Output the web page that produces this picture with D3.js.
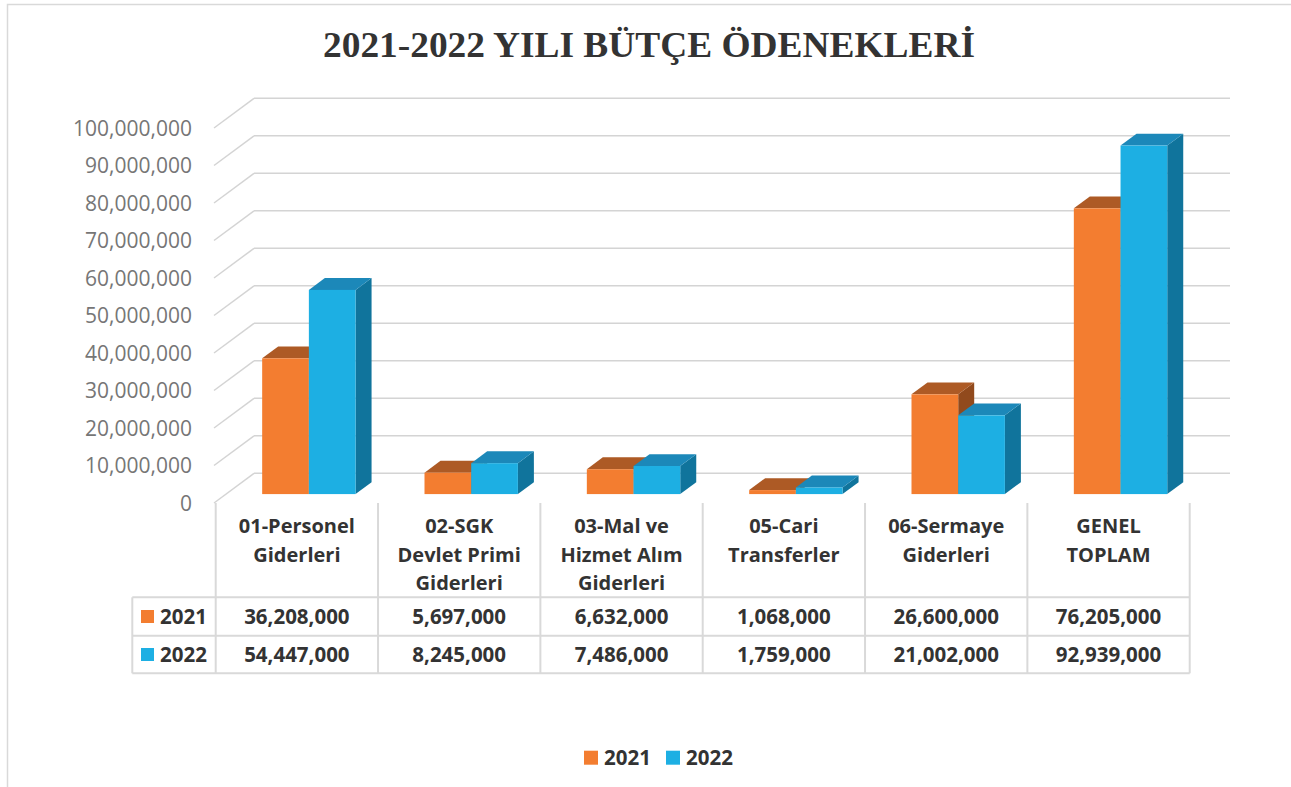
<!DOCTYPE html>
<html>
<head>
<meta charset="utf-8">
<script src="https://cdn.jsdelivr.net/npm/d3@7"></script>
<style>
  body { margin: 0; background: #fff; }
  svg { display: block; }
</style>
</head>
<body>
<div class="chart"></div>
<script>
// chart data
const categories = [
  ["01-Personel", "Giderleri"],
  ["02-SGK", "Devlet Primi", "Giderleri"],
  ["03-Mal ve", "Hizmet Alım", "Giderleri"],
  ["05-Cari", "Transferler"],
  ["06-Sermaye", "Giderleri"],
  ["GENEL", "TOPLAM"]
];
const seriesNames = ["2021", "2022"];
const values2021 = [36208000, 5697000, 6632000, 1068000, 26600000, 76205000];
const values2022 = [54447000, 8245000, 7486000, 1759000, 21002000, 92939000];
const yMax = 100000000;

const colors = {
  "2021": { front: "#F37D30", top: "#AD5A25", side: "#914A1D" },
  "2022": { front: "#1DAFE3", top: "#1C88B9", side: "#10749C" }
};

const width = 1291, height = 787;
const textColor = "#333333";
const gridColor = "#D4D4D4";
const font = "'Open Sans', sans-serif";

const svg = d3.select(".chart").append("svg")
  .attr("width", width)
  .attr("height", height);

// outer chart border
svg.append("rect")
  .attr("x", 7.5).attr("y", 4.5)
  .attr("width", width + 20).attr("height", height + 20)
  .attr("fill", "#fff")
  .attr("stroke", "#D9D9D9")
  .attr("stroke-width", 1.5);

// title
svg.append("text")
  .attr("x", 649).attr("y", 57)
  .attr("text-anchor", "middle")
  .attr("font-family", "'Liberation Serif', 'Times New Roman', serif")
  .attr("font-weight", "bold")
  .attr("font-size", 36)
  .attr("fill", textColor)
  .attr("textLength", 652)
  .attr("lengthAdjust", "spacingAndGlyphs")
  .text("2021-2022 YILI BÜTÇE ÖDENEKLERİ");

// scales
const x = d3.scaleBand()
  .domain(d3.range(categories.length))
  .range([215.7, 1189.7])
  .padding(0);

const y = d3.scaleLinear()
  .domain([0, yMax])
  .range([503, 128]);

const xs = d3.scaleBand()
  .domain(seriesNames)
  .range([-46.7, 46.7]);

// oblique depth
const depthX = 40, depthY = -29.7;
const zFront = 0.3, zBack = 0.7;
const wallLeft = 214, wallRight = 1230;

const g = svg.append("g");

// walls / gridlines
const ticks = y.ticks(10);
const grid = g.append("g").attr("stroke", gridColor).attr("stroke-width", 1.5).attr("fill", "none");
ticks.forEach(t => {
  grid.append("line")
    .attr("x1", wallLeft + depthX).attr("y1", y(t) + depthY)
    .attr("x2", wallRight).attr("y2", y(t) + depthY);
  grid.append("line")
    .attr("x1", wallLeft).attr("y1", y(t))
    .attr("x2", wallLeft + depthX).attr("y2", y(t) + depthY);
});

// y labels
g.append("g").selectAll("text")
  .data(ticks)
  .enter().append("text")
  .attr("x", 192)
  .attr("y", d => y(d))
  .attr("dy", "0.36em")
  .attr("text-anchor", "end")
  .attr("font-family", font)
  .attr("font-size", 21)
  .attr("fill", "#767676")
  .text(d => d3.format(",")(d));

// bars
const barData = [];
categories.forEach((c, i) => {
  barData.push({ i, s: "2021", v: values2021[i] });
  barData.push({ i, s: "2022", v: values2022[i] });
});

const bars = g.append("g");
barData.forEach(d => {
  const ox = zFront * depthX, oy = zFront * depthY;
  const dx = (zBack - zFront) * depthX, dy = (zBack - zFront) * depthY;
  const x0 = x(d.i) + x.bandwidth() / 2 + xs(d.s) + ox;
  const x1 = x0 + xs.bandwidth();
  const yt = y(d.v) + oy;
  const yb = y(0) + oy;
  const c = colors[d.s];
  const b = bars.append("g");
  b.append("path")
    .attr("d", `M${x1},${yt}L${x1 + dx},${yt + dy}L${x1 + dx},${yb + dy}L${x1},${yb}Z`)
    .attr("fill", c.side);
  b.append("path")
    .attr("d", `M${x0},${yt}L${x1},${yt}L${x1 + dx},${yt + dy}L${x0 + dx},${yt + dy}Z`)
    .attr("fill", c.top);
  b.append("rect")
    .attr("x", x0).attr("y", yt)
    .attr("width", x1 - x0).attr("height", yb - yt)
    .attr("fill", c.front);
});

// data table
const tableLeft = 132.3;
const rowTops = [597.3, 635.7, 673.3];
const tbl = g.append("g").attr("stroke", "#D9D9D9").attr("stroke-width", 2).attr("fill", "none");
rowTops.forEach(r => {
  tbl.append("line").attr("x1", tableLeft).attr("x2", x.range()[1]).attr("y1", r).attr("y2", r);
});
tbl.append("line").attr("x1", tableLeft).attr("x2", tableLeft).attr("y1", rowTops[0]).attr("y2", rowTops[2]);
d3.range(categories.length + 1).forEach(i => {
  const xv = i < categories.length ? x(i) : x.range()[1];
  tbl.append("line").attr("x1", xv).attr("x2", xv).attr("y1", 503).attr("y2", rowTops[2]);
});

// category headers
categories.forEach((lines, i) => {
  const t = g.append("text")
    .attr("text-anchor", "middle")
    .attr("font-family", font)
    .attr("font-weight", "bold")
    .attr("font-size", 20)
    .attr("fill", textColor);
  lines.forEach((l, k) => {
    t.append("tspan")
      .attr("x", x(i) + x.bandwidth() / 2)
      .attr("y", 526 + k * 28.5)
      .attr("dy", "0.36em")
      .text(l);
  });
});

// row values
[values2021, values2022].forEach((vals, r) => {
  const cy = (rowTops[r] + rowTops[r + 1]) / 2;
  vals.forEach((v, i) => {
    g.append("text")
      .attr("x", x(i) + x.bandwidth() / 2)
      .attr("y", cy)
      .attr("dy", "0.36em")
      .attr("text-anchor", "middle")
      .attr("font-family", font)
      .attr("font-weight", "bold")
      .attr("font-size", 20.5)
      .attr("fill", textColor)
      .text(d3.format(",")(v));
  });
  g.append("rect")
    .attr("x", 141).attr("y", cy - 6.5)
    .attr("width", 13).attr("height", 13)
    .attr("fill", colors[seriesNames[r]].front);
  g.append("text")
    .attr("x", 160).attr("y", cy)
    .attr("dy", "0.36em")
    .attr("font-family", font)
    .attr("font-weight", "bold")
    .attr("font-size", 20.5)
    .attr("fill", textColor)
    .text(seriesNames[r]);
});

// legend
const legendX = [584, 666];
seriesNames.forEach((s, k) => {
  svg.append("rect")
    .attr("x", legendX[k]).attr("y", 750.7)
    .attr("width", 14).attr("height", 14)
    .attr("fill", colors[s].front);
  svg.append("text")
    .attr("x", legendX[k] + 20).attr("y", 757.7)
    .attr("dy", "0.36em")
    .attr("font-family", font)
    .attr("font-weight", "bold")
    .attr("font-size", 20.5)
    .attr("fill", textColor)
    .text(s);
});
</script>
</body>
</html>
